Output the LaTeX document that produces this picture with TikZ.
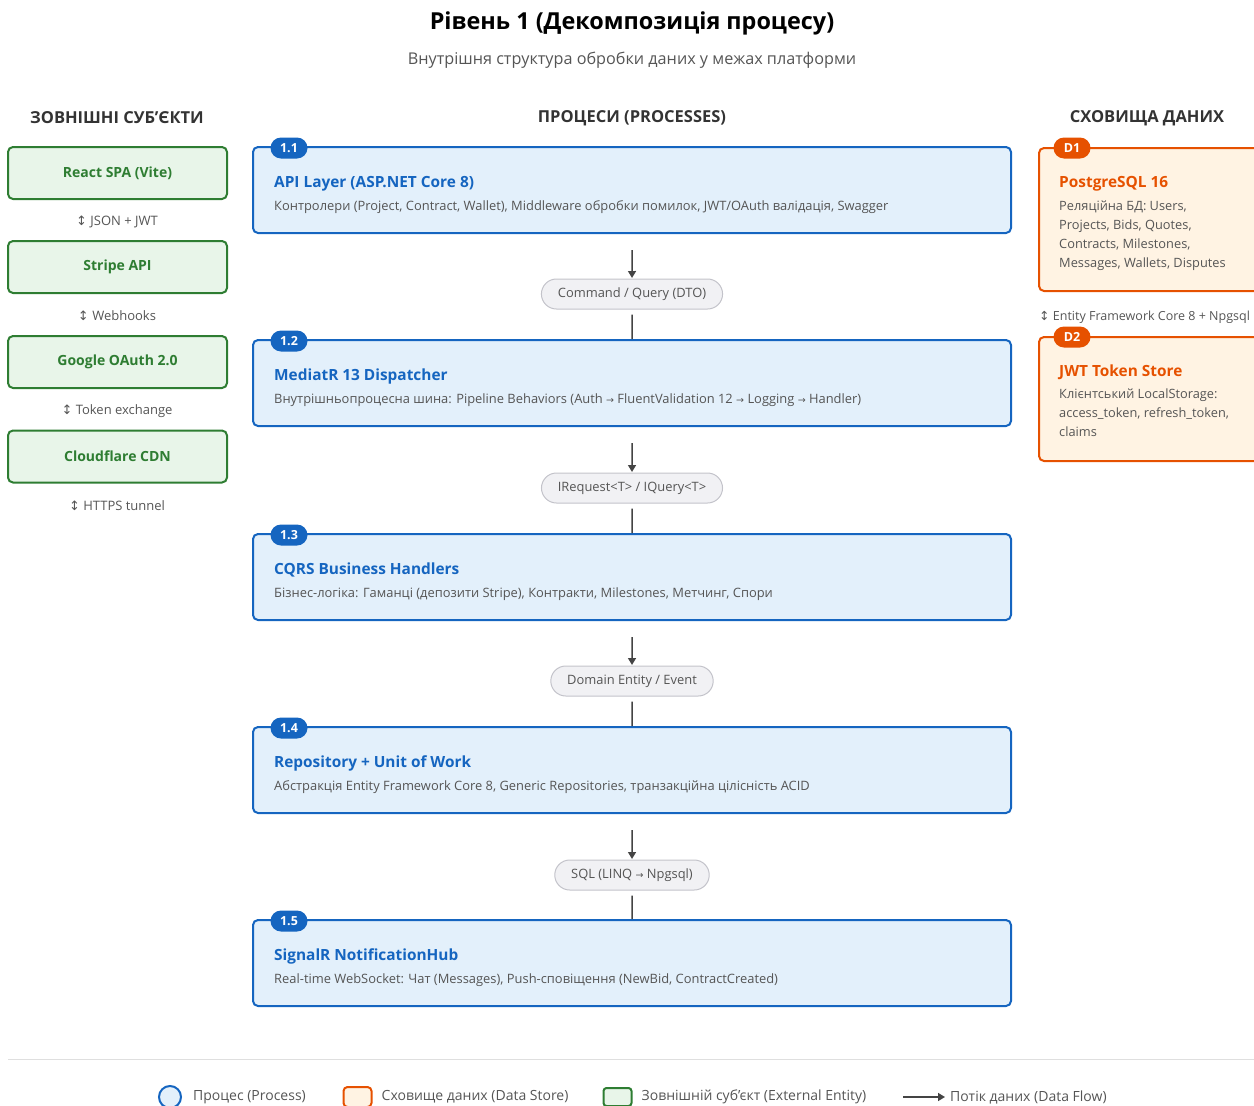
\documentclass[tikz,border=0pt]{standalone}
\usepackage{fontspec}
\setmainfont{Open Sans}
\newfontfamily\symfont{DejaVu Sans}
\usetikzlibrary{positioning}
\usetikzlibrary{arrows.meta}
\usetikzlibrary{shapes.misc}

\definecolor{procblue}{HTML}{1565C0}
\definecolor{procfill}{HTML}{E3F0FB}
\definecolor{storeorange}{HTML}{E65100}
\definecolor{storefill}{HTML}{FFF3E3}
\definecolor{extgreen}{HTML}{2E7D32}
\definecolor{extfill}{HTML}{E8F5E9}
\definecolor{txtgray}{HTML}{555555}
\definecolor{headgray}{HTML}{333333}
\definecolor{pillfill}{HTML}{F1F1F4}
\definecolor{pillline}{HTML}{C3C3CA}
\definecolor{arrgray}{HTML}{444444}

\newcommand{\flowarr}{{\symfont\fontsize{9.5}{10}\selectfont →}}
\newcommand{\bothways}{{\symfont ↕}}

\begin{document}
\begin{tikzpicture}[x=1pt,y=-1pt,
        proc/.style={draw=procblue,fill=procfill,line width=2pt,rounded corners=5pt,minimum width=758pt,minimum height=86pt,inner sep=0pt},
        badge/.style={rounded rectangle,fill=#1,text=white,font=\bfseries\fontsize{12.5}{14}\selectfont,minimum width=37pt,minimum height=21pt,inner sep=0pt},
        ptitle/.style={anchor=base west,text=procblue,font=\bfseries\fontsize{15.4}{18}\selectfont,inner sep=0pt},
        pdesc/.style={anchor=base west,text=txtgray,font=\fontsize{12.9}{15}\selectfont,inner sep=0pt},
        ext/.style={draw=extgreen,fill=extfill,line width=2pt,rounded corners=5pt,minimum width=219pt,minimum height=52pt,text=extgreen,font=\bfseries\fontsize{14}{16}\selectfont},
        store/.style={draw=storeorange,fill=storefill,line width=2pt,rounded corners=5pt,minimum width=222pt,anchor=north west,inner sep=0pt},
        stitle/.style={anchor=base west,text=storeorange,font=\bfseries\fontsize{15.4}{18}\selectfont,inner sep=0pt},
        sdesc/.style={anchor=base west,text=txtgray,font=\fontsize{12.8}{15}\selectfont,inner sep=0pt},
        flowlbl/.style={rounded rectangle,draw=pillline,fill=pillfill,line width=1pt,minimum height=30pt,inner xsep=15pt,text=txtgray,font=\fontsize{12.9}{14}\selectfont},
        note/.style={text=txtgray,font=\fontsize{13}{15}\selectfont,inner sep=0pt},
        head/.style={text=headgray,font=\bfseries\fontsize{16.5}{19}\selectfont},
        arr/.style={draw=arrgray,line width=1.5pt,-{Triangle[length=7pt,width=8pt]}},
        link/.style={draw=arrgray,line width=1.5pt},
        lgtxt/.style={text=txtgray,font=\fontsize{14}{16}\selectfont,inner sep=0pt},
    ]
    \useasboundingbox (0,0) rectangle (1254,1106);

    % titles
    \node[font=\bfseries\fontsize{23.4}{27}\selectfont,text=black] (title) at (632,23) {Рівень 1 (Декомпозиція процесу)};
    \node[font=\fontsize{16.2}{19}\selectfont,text=txtgray] (subtitle) at (632,60) {Внутрішня структура обробки даних у межах платформи};
    \node[head] (hext) at (117,118) {ЗОВНІШНІ СУБ'ЄКТИ};
    \node[head] (hproc) at (632,118) {ПРОЦЕСИ (PROCESSES)};
    \node[head] (hstore) at (1147,118) {СХОВИЩА ДАНИХ};

    % external entities
    \foreach \i/\y/\name/\lbl in {1/173/{React SPA (Vite)}/{JSON + JWT},
                                  2/267/{Stripe API}/{Webhooks},
                                  3/362/{Google OAuth 2.0}/{Token exchange},
                                  4/456.5/{Cloudflare CDN}/{HTTPS tunnel}} {
        \node[ext] (e\i) at (117.5,\y) {\name};
        \node[note] (en\i) at (117,{\y+49}) {\bothways\ \lbl};
    }

    % processes
    \foreach \i/\yt/\ttl/\desc in {1/147/{API Layer (ASP.NET Core 8)}/{Контролери (Project, Contract, Wallet), Middleware обробки помилок, JWT/OAuth валідація, Swagger},
                                   2/340/{MediatR 13 Dispatcher}/{Внутрішньопроцесна шина: Pipeline Behaviors (Auth \flowarr\ FluentValidation 12 \flowarr\ Logging \flowarr\ Handler)},
                                   3/534/{CQRS Business Handlers}/{Бізнес-логіка: Гаманці (депозити Stripe), Контракти, Milestones, Метчинг, Спори},
                                   4/727/{Repository + Unit of Work}/{Абстракція Entity Framework Core 8, Generic Repositories, транзакційна цілісність ACID},
                                   5/920/{SignalR NotificationHub}/{Real-time WebSocket: Чат (Messages), Push-сповіщення (NewBid, ContractCreated)}} {
        \node[proc] (p\i) at (632,{\yt+43}) {};
        \node[badge=procblue] (b\i) at (289,{\yt+1}) {1.\i};
        \node[ptitle] at (274,{\yt+40.5}) {\ttl};
        \node[pdesc] at (274,{\yt+63.5}) {\desc};
    }

    % data flows between processes
    \node[flowlbl] (f1) at (632,294) {Command / Query (DTO)};
    \node[flowlbl] (f2) at (632,488) {IRequest<T> / IQuery<T>};
    \node[flowlbl] (f3) at (632,681) {Domain Entity / Event};
    \node[flowlbl] (f4) at (632,875) {SQL (LINQ \flowarr\ Npgsql)};
    \foreach \i/\j in {1/2,2/3,3/4,4/5} {
        \draw[arr,shorten <=16pt,shorten >=0.5pt] (p\i) -- (f\i);
        \draw[link,shorten <=5pt] (f\i) -- (p\j);
    }

    % data stores
    \node[store,minimum height=143pt] (d1) at (1038,147) {};
    \node[badge=storeorange] (bd1) at (1072,148) {D1};
    \node[stitle] at (1059,187.5) {PostgreSQL 16};
    \foreach \ln [count=\k] in {{Реляційна БД: Users,},{Projects, Bids, Quotes,},{Contracts, Milestones,},{Messages, Wallets, Disputes}}
        \node[sdesc] at (1059,{191+19*\k}) {\ln};
    \node[note,anchor=west,font=\fontsize{12.5}{15}\selectfont] (dn1) at (1039,317) {\bothways\ Entity Framework Core 8 + Npgsql};
    \node[store,minimum height=124pt] (d2) at (1038,336) {};
    \node[badge=storeorange] (bd2) at (1072,337) {D2};
    \node[stitle] at (1059,376.5) {JWT Token Store};
    \foreach \ln [count=\k] in {{Клієнтський LocalStorage:},{access\_token, refresh\_token,},{claims}}
        \node[sdesc] at (1059,{380+18.7*\k}) {\ln};

    % legend
    \draw[gray!25,line width=1pt] (8,1059) -- (1254,1059);
    \node[circle,draw=procblue,fill=procfill,line width=2pt,minimum size=22pt,inner sep=0pt] (lg1) at (170,1097) {};
    \node[lgtxt,right=11pt of lg1] {Процес (Process)};
    \node[draw=storeorange,fill=storefill,line width=2pt,rounded corners=4pt,minimum width=28pt,minimum height=20pt,inner sep=0pt] (lg2) at (357.5,1097) {};
    \node[lgtxt,right=9pt of lg2] {Сховище даних (Data Store)};
    \node[draw=extgreen,fill=extfill,line width=2pt,rounded corners=3pt,minimum width=28pt,minimum height=18pt,inner sep=0pt] (lg3) at (617.5,1097) {};
    \node[lgtxt,right=9pt of lg3] {Зовнішній суб'єкт (External Entity)};
    \coordinate (lg4a) at (903,1097);
    \coordinate (lg4b) at (945,1097);
    \draw[arr] (lg4a) -- (lg4b);
    \node[lgtxt,right=5pt of lg4b] {Потік даних (Data Flow)};
\end{tikzpicture}
\end{document}
